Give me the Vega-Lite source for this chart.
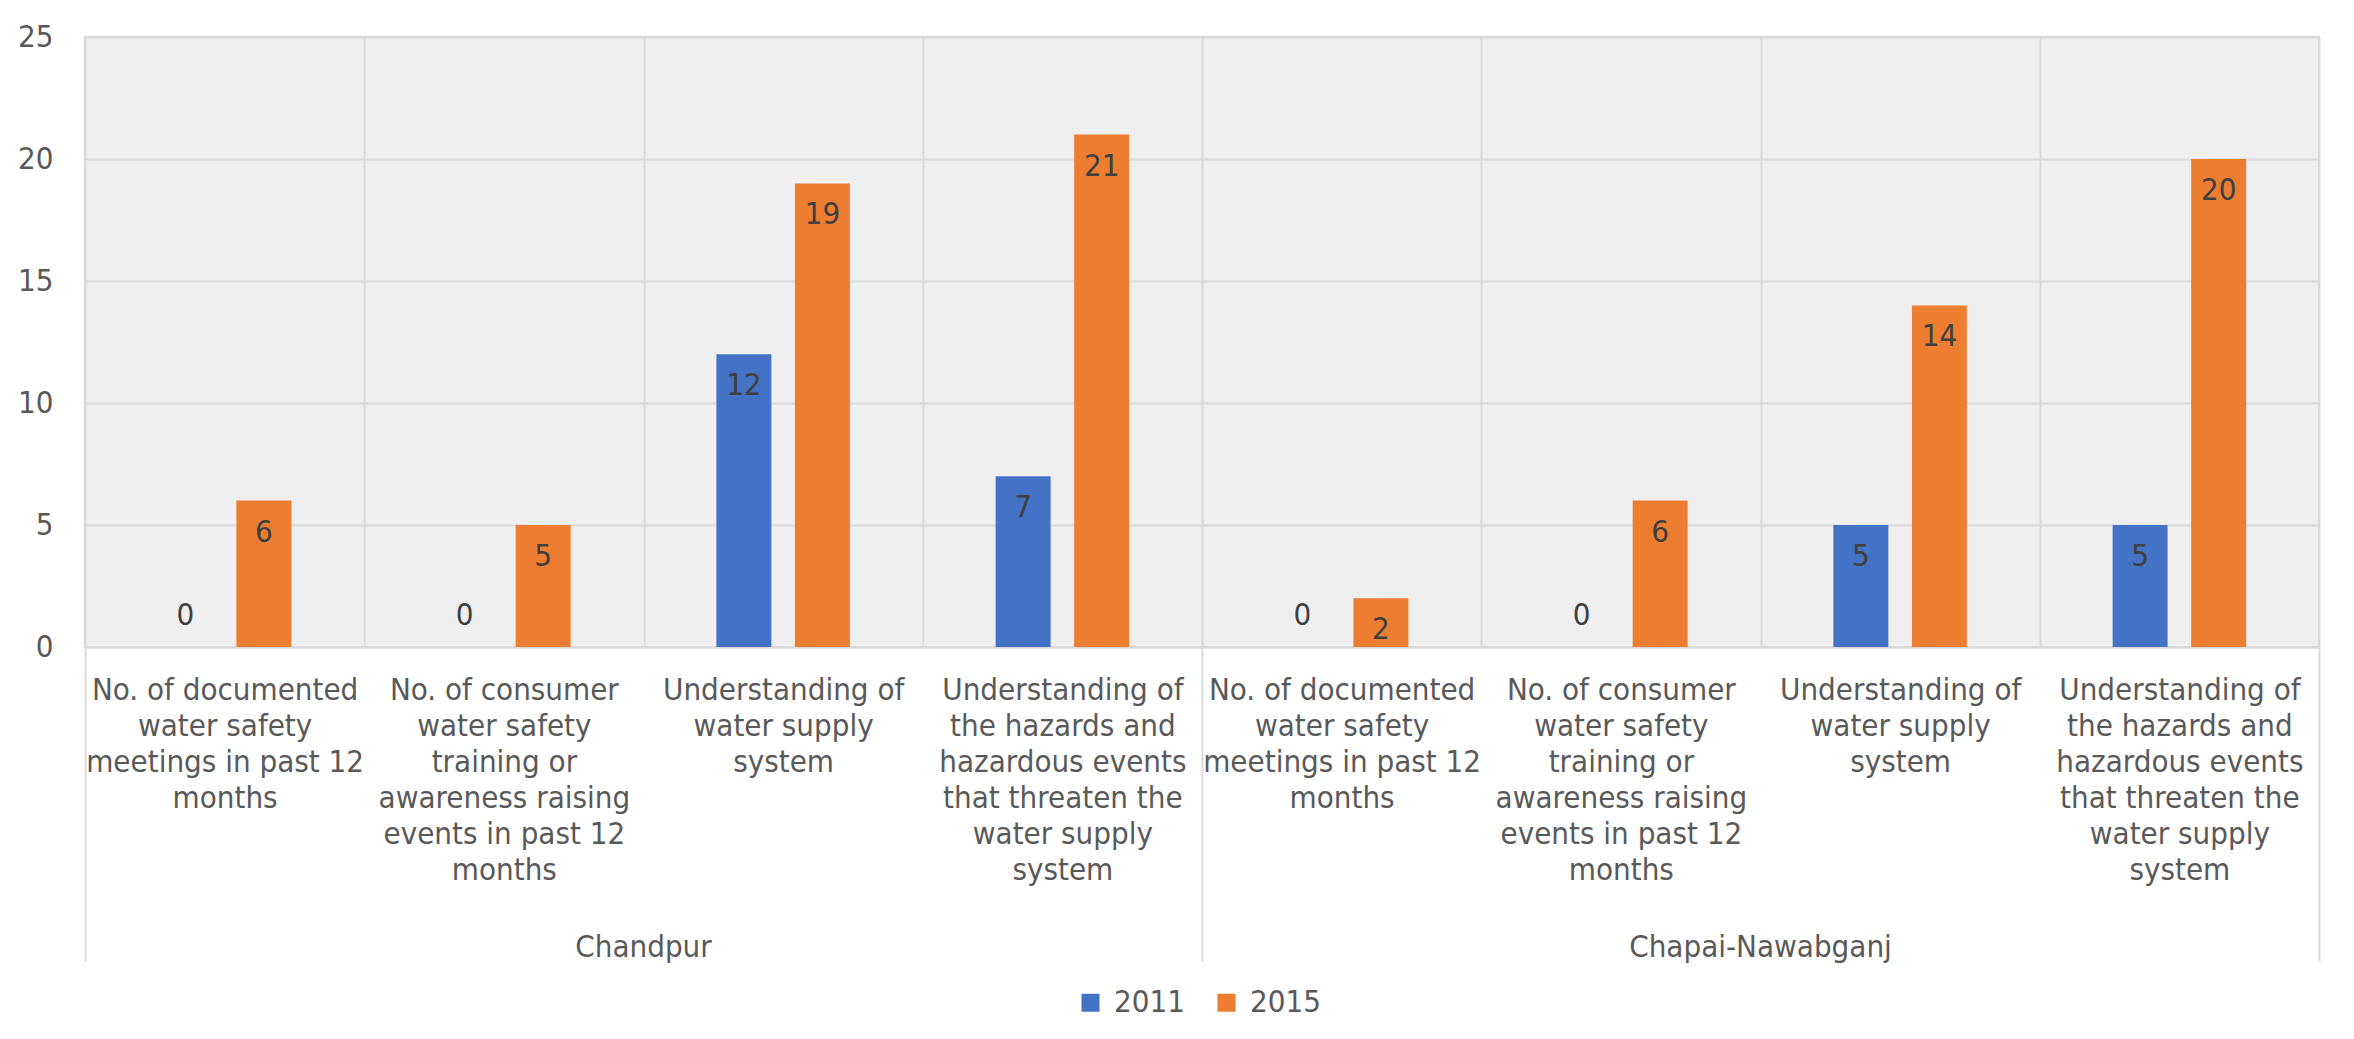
{
  "$schema": "https://vega.github.io/schema/vega-lite/v6.json",
  "width": 2234,
  "height": 610,
  "autosize": {"type": "none"},
  "padding": {"left": 85, "top": 37, "right": 35, "bottom": 392},
  "background": "white",
  "config": {
    "font": "DejaVu Sans Condensed",
    "view": {"stroke": "#d9d9d9", "strokeWidth": 2, "fill": "#efefef"}
  },
  "data": {
    "values": [
      {"key": "Chandpur#No. of documented|water safety|meetings in past 12|months", "year": "2011", "value": 0},
      {"key": "Chandpur#No. of documented|water safety|meetings in past 12|months", "year": "2015", "value": 6},
      {"key": "Chandpur#No. of consumer|water safety|training or|awareness raising|events in past 12|months", "year": "2011", "value": 0},
      {"key": "Chandpur#No. of consumer|water safety|training or|awareness raising|events in past 12|months", "year": "2015", "value": 5},
      {"key": "Chandpur#Understanding of|water supply|system", "year": "2011", "value": 12},
      {"key": "Chandpur#Understanding of|water supply|system", "year": "2015", "value": 19},
      {"key": "Chandpur#Understanding of|the hazards and|hazardous events|that threaten the|water supply|system", "year": "2011", "value": 7},
      {"key": "Chandpur#Understanding of|the hazards and|hazardous events|that threaten the|water supply|system", "year": "2015", "value": 21},
      {"key": "Chapai-Nawabganj#No. of documented|water safety|meetings in past 12|months", "year": "2011", "value": 0},
      {"key": "Chapai-Nawabganj#No. of documented|water safety|meetings in past 12|months", "year": "2015", "value": 2},
      {"key": "Chapai-Nawabganj#No. of consumer|water safety|training or|awareness raising|events in past 12|months", "year": "2011", "value": 0},
      {"key": "Chapai-Nawabganj#No. of consumer|water safety|training or|awareness raising|events in past 12|months", "year": "2015", "value": 6},
      {"key": "Chapai-Nawabganj#Understanding of|water supply|system", "year": "2011", "value": 5},
      {"key": "Chapai-Nawabganj#Understanding of|water supply|system", "year": "2015", "value": 14},
      {"key": "Chapai-Nawabganj#Understanding of|the hazards and|hazardous events|that threaten the|water supply|system", "year": "2011", "value": 5},
      {"key": "Chapai-Nawabganj#Understanding of|the hazards and|hazardous events|that threaten the|water supply|system", "year": "2015", "value": 20}
    ]
  },
  "layer": [
    {
      "mark": {"type": "bar"},
      "encoding": {
        "x": {
          "field": "key", "type": "nominal", "sort": null,
          "scale": {"paddingInner": 0, "paddingOuter": 0},
          "axis": {
            "title": null, "orient": "bottom", "labelAngle": 0, "ticks": false,
            "labelExpr": "test(/#/, datum.value) ? split(split(datum.value, '#')[1], '|') : ''",
            "labelFontSize": 31, "labelLineHeight": 36, "labelColor": "#595959",
            "labelBaseline": "top", "labelPadding": 28, "labelLimit": 400,
            "domainColor": "#d9d9d9", "domainWidth": 2,
            "grid": true, "gridColor": "#d9d9d9", "gridWidth": 2, "tickBand": "extent"
          }
        },
        "xOffset": {"field": "year", "type": "nominal", "scale": {"paddingInner": 0.3, "paddingOuter": 0.928}},
        "y": {
          "field": "value", "type": "quantitative",
          "scale": {"domain": [0, 25], "nice": false},
          "axis": {
            "title": null, "values": [0, 5, 10, 15, 20, 25], "domain": false, "ticks": false,
            "labelFontSize": 31, "labelColor": "#595959", "labelPadding": 32,
            "grid": true, "gridColor": "#d9d9d9", "gridWidth": 2
          }
        },
        "color": {
          "field": "year", "type": "nominal",
          "scale": {"domain": ["2011", "2015"], "range": ["#4472C4", "#ED7D31"]},
          "legend": {
            "title": null, "orient": "none", "direction": "horizontal",
            "legendX": 990, "legendY": 950,
            "symbolType": "square", "symbolSize": 324, "symbolStrokeWidth": 0,
            "labelFontSize": 31, "labelColor": "#595959", "labelOffset": 8,
            "columnPadding": 26
          }
        }
      }
    },
    {
      "transform": [{"filter": "datum.value > 0"}],
      "mark": {"type": "text", "dy": 32, "fontSize": 31, "color": "#404040", "baseline": "middle", "align": "center"},
      "encoding": {
        "x": {
          "field": "key", "type": "nominal", "sort": null,
          "axis": {
            "title": null, "orient": "bottom", "domain": false, "grid": false, "labels": false,
            "values": [
              "Chandpur#No. of documented|water safety|meetings in past 12|months",
              "Chapai-Nawabganj#No. of documented|water safety|meetings in past 12|months"
            ],
            "bandPosition": 0,
            "tickSize": 314, "tickWidth": 2, "tickColor": "#d9d9d9"
          }
        },
        "xOffset": {"field": "year", "type": "nominal"},
        "y": {"field": "value", "type": "quantitative"},
        "text": {"field": "value", "type": "quantitative", "format": "d"}
      }
    },
    {
      "transform": [{"filter": "datum.value == 0"}],
      "mark": {"type": "text", "dy": -31, "fontSize": 31, "color": "#404040", "baseline": "middle", "align": "center"},
      "encoding": {
        "x": {
          "field": "key", "type": "nominal", "sort": null,
          "axis": {
            "title": null, "orient": "bottom", "domain": false, "grid": false, "ticks": false,
            "values": [
              "Chandpur#Understanding of|water supply|system",
              "Chapai-Nawabganj#Understanding of|water supply|system"
            ],
            "labelExpr": "split(datum.value, '#')[0]",
            "labelFontSize": 31, "labelColor": "#595959", "labelBaseline": "top", "labelAlign": "center",
            "labelAngle": 0, "labelPadding": 285, "labelLimit": 600, "labelOffset": -139.6
          }
        },
        "xOffset": {"field": "year", "type": "nominal"},
        "y": {"field": "value", "type": "quantitative"},
        "text": {"field": "value", "type": "quantitative", "format": "d"}
      }
    },
    {
      "transform": [{"filter": "datum.value < 0"}],
      "mark": {"type": "text", "fontSize": 31, "color": "#404040"},
      "encoding": {
        "x": {
          "field": "key", "type": "nominal", "sort": null,
          "axis": {
            "title": null, "orient": "bottom", "domain": false, "grid": false, "labels": false,
            "values": [
              "Chapai-Nawabganj#Understanding of|the hazards and|hazardous events|that threaten the|water supply|system"
            ],
            "bandPosition": 1,
            "tickSize": 314, "tickWidth": 2, "tickColor": "#d9d9d9"
          }
        },
        "y": {"field": "value", "type": "quantitative"},
        "text": {"field": "value", "type": "quantitative"}
      }
    }
  ],
  "resolve": {"axis": {"x": "independent"}}
}
